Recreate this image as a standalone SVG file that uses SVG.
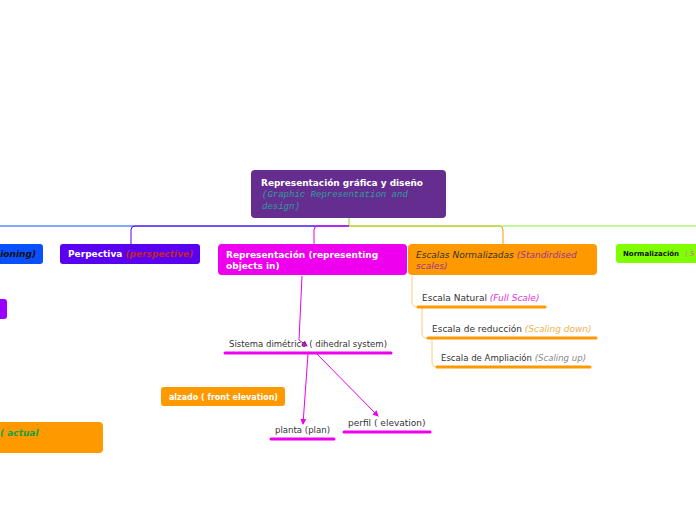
<svg xmlns="http://www.w3.org/2000/svg" width="696" height="520" viewBox="0 0 696 520">
<defs>
<marker id="ah" markerWidth="6" markerHeight="6" refX="5" refY="3" orient="auto" markerUnits="userSpaceOnUse">
<path d="M0,0 L6,3 L0,6 Z" fill="#ee00ee"/>
</marker>
</defs>
<style>
text{font-family:"DejaVu Sans",Verdana,sans-serif;}
.b{font-weight:bold;fill:#fff;font-size:9px;}
.mono{font-family:"Liberation Mono","Courier New",monospace;font-style:italic;font-size:9px;fill:#2a9d9d;}
.t{font-size:9px;fill:#333;}
.ul{stroke-width:3;stroke-linecap:round;fill:none;}
.c{fill:none;stroke-width:1;}
</style>
<rect width="696" height="520" fill="#fff"/>
<g id="connectors">
<path class="c" d="M349,218 V226" stroke="#80e020" stroke-width="1.5"/>
<path class="c" d="M349,226 H0" stroke="#0a50ff" stroke-width="1.5"/>
<path class="c" d="M349,226 H135 Q131,226 131,230 V244" stroke="#5a00f0" stroke-width="1.5"/>
<path class="c" d="M349,226 H318 Q314,226 314,230 V244" stroke="#ee00ee" stroke-width="1.5"/>
<path class="c" d="M349,226 H499 Q503,226 503,230 V244" stroke="#ff9900" stroke-width="1.5"/>
<path class="c" d="M349,226 H696" stroke="#88ee33" stroke-width="1.5"/>
<path class="c" d="M302,276 L299,340 L307,346" stroke="#ee00ee" marker-end="url(#ah)"/>
<path class="c" d="M308,354 L303,424" stroke="#ee00ee" marker-end="url(#ah)"/>
<path class="c" d="M317,354 L378,416" stroke="#ee00ee" marker-end="url(#ah)"/>
<path class="c" d="M412,276 V302 Q412,307 417,307" stroke="#ffcc80"/>
<path class="c" d="M422,307 V333 Q422,338 427,338" stroke="#ffcc80"/>
<path class="c" d="M432,338 V362 Q432,367 437,367" stroke="#ffcc80"/>
</g>
<g id="central">
<rect x="251" y="170" width="195" height="48" rx="4" fill="#662d91"/>
<text class="b" x="261" y="186" textLength="162" lengthAdjust="spacingAndGlyphs">Representación gráfica y diseño</text>
<text class="mono" x="262" y="197">(Graphic Representation and</text>
<text class="mono" x="262" y="209">design)</text>
</g>
<g id="positioning">
<rect x="-10" y="244" width="53" height="20" rx="3" fill="#0a50ff"/>
<text x="36" y="257" text-anchor="end" font-size="9" font-weight="bold" font-style="italic" fill="#111">ioning)</text>
</g>
<g id="perspectiva">
<rect x="60" y="244" width="140" height="20" rx="3" fill="#5a00f0"/>
<text x="68" y="257" font-size="9"><tspan font-weight="bold" fill="#fff">Perpectiva </tspan><tspan font-style="italic" font-weight="bold" fill="#c0262e">(perspective)</tspan></text>
</g>
<g id="representacion">
<rect x="218" y="244" width="189" height="31" rx="4" fill="#ee00ee"/>
<text class="b" x="226" y="258">Representación (representing</text>
<text class="b" x="226" y="269">objects in)</text>
</g>
<g id="escalas">
<rect x="408" y="244" width="189" height="31" rx="4" fill="#ff9900"/>
<text x="416" y="258" font-size="9" font-style="italic"><tspan fill="#333">Escalas Normalizadas </tspan><tspan fill="#993399">(Standirdised</tspan></text>
<text x="416" y="269" font-size="9" font-style="italic" fill="#993399">scales)</text>
</g>
<g id="normalizacion">
<rect x="616" y="244" width="90" height="19" rx="3" fill="#80ff00"/>
<text x="623" y="256" font-size="7" font-weight="bold" fill="#111">Normalización</text>
<text x="685" y="256" font-size="7" font-style="italic" fill="#cc66aa">( S</text>
</g>
<g id="purple-left">
<rect x="-10" y="299" width="17" height="20" rx="3" fill="#9900ff"/>
</g>
<g id="actual">
<rect x="-10" y="422" width="113" height="31" rx="4" fill="#ff9900"/>
<text x="0" y="436" font-size="9" font-weight="bold" font-style="italic" fill="#1aa040">( actual</text>
</g>
<g id="alzado">
<rect x="161" y="387" width="124" height="19" rx="3" fill="#ff9900"/>
<text class="b" x="169" y="400" font-size="8" textLength="109" lengthAdjust="spacingAndGlyphs">alzado ( front elevation)</text>
</g>
<g id="sistema">
<text class="t" x="229" y="347" textLength="158" lengthAdjust="spacingAndGlyphs">Sistema dimétrico ( dihedral system)</text>
<path class="ul" d="M225,353 H391" stroke="#ee00ee"/>
</g>
<g id="planta">
<text class="t" x="275" y="433" textLength="55" lengthAdjust="spacingAndGlyphs">planta (plan)</text>
<path class="ul" d="M271,439 H334" stroke="#ee00ee"/>
</g>
<g id="perfil">
<text class="t" x="348" y="426">perfil ( elevation)</text>
<path class="ul" d="M344,432 H430" stroke="#ee00ee"/>
</g>
<g id="natural">
<text class="t" x="422" y="301">Escala Natural <tspan font-style="italic" fill="#dd33dd">(Full Scale)</tspan></text>
<path class="ul" d="M418,307 H545" stroke="#ff9900"/>
</g>
<g id="reduccion">
<text class="t" x="432" y="332">Escala de reducción <tspan font-style="italic" fill="#f0b050">(Scaling down)</tspan></text>
<path class="ul" d="M428,338 H596" stroke="#ff9900"/>
</g>
<g id="ampliacion">
<text class="t" x="441" y="361" textLength="145" lengthAdjust="spacingAndGlyphs">Escala de Ampliación <tspan font-style="italic" fill="#888">(Scaling up)</tspan></text>
<path class="ul" d="M437,367 H590" stroke="#ff9900"/>
</g>
</svg>
